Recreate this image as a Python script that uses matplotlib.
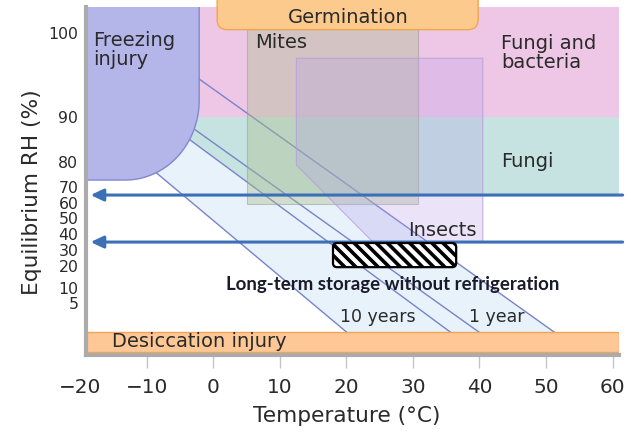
import numpy as np
import matplotlib
matplotlib.use("Agg")
import matplotlib.pyplot as plt
from matplotlib.patches import Polygon, Rectangle, FancyBboxPatch, FancyArrowPatch

# the RH axis of the original is stretched: height (px above the x axis) of each RH knot
rh_knots = [0, 5, 10, 20, 30, 40, 50, 60, 70, 80, 90, 100]
pos_knots = [3, 52, 67, 89, 105, 121, 137, 152, 168, 193, 238, 322]

rh_ticks = [5, 10, 20, 30, 40, 50, 60, 70, 80, 90, 100]
t_ticks = [-20, -10, 0, 10, 20, 30, 40, 50, 60]

# zones: (t_min, t_max, rh_min, rh_max)
freezing = (-19.1, -2.1, 72.8, 104)
fungi_bact = (-10, 60.9, 90, 104)
fungi = (-10, 60.9, 65, 90)
mites = (5.1, 30.8, 59.4, 104)
insects = (12.5, 40.5, 35, 97)
insects_cut = (24, 78.8)          # cut corner: t at rh_min, rh at t_min
germination = (0.6, 39.8, 100.4, 106)
desiccation = (-19.1, 60.9, 0, 2)
storage = (18, 36.5, 19.5, 34.4)

# seed longevity lines
lines_rh_bottom = 2
lines_t_bottom = [20.1, 35.7, 40.0, 51.3]
lines_t_top = [-16.2, -9.5, -6.8, -4.0]
lines_rh_top = [87.1, 90.8, 90.8, 95.6]

arrow_rh = [65, 35]


def extrap(x, xp, fp):
    x = np.asarray(x, dtype=float)
    y = np.interp(x, xp, fp)
    s0 = (fp[1] - fp[0]) / (xp[1] - xp[0])
    s1 = (fp[-1] - fp[-2]) / (xp[-1] - xp[-2])
    y = np.where(x < xp[0], fp[0] + (x - xp[0]) * s0, y)
    y = np.where(x > xp[-1], fp[-1] + (x - xp[-1]) * s1, y)
    return y


def fwd(rh):
    return extrap(rh, rh_knots, pos_knots)


def inv(p):
    return extrap(p, pos_knots, rh_knots)


def line_t(i, rh):
    p0, p1 = fwd(lines_rh_bottom), fwd(lines_rh_top[i])
    f = (fwd(rh) - p0) / (p1 - p0)
    return lines_t_bottom[i] + f * (lines_t_top[i] - lines_t_bottom[i])


fig = plt.figure(figsize=(6.31, 4.32), dpi=100)
ax = fig.add_axes([80 / 631, 77 / 432, 539.3 / 631, 348 / 432])
ax.set_yscale("function", functions=(fwd, inv))
ax.set_xlim(-20, 61)
ax.set_ylim(-0.3, 103.1)

txt = "#2a2a2a"

# light blue longevity band
band = [(lines_t_bottom[0], lines_rh_bottom), (lines_t_bottom[3], lines_rh_bottom),
        (lines_t_top[3], lines_rh_top[3]), (lines_t_top[0], lines_rh_top[0])]
ax.add_patch(Polygon(band, closed=True, fc="#e7f2fb", ec="none", zorder=1))

# fungi and bacteria, fungi
t0, t1, r0, r1 = fungi_bact
ax.add_patch(Rectangle((t0, r0), t1 - t0, r1 - r0, fc="#efc7e6", ec="#e0a8d0", lw=0.8, zorder=2))
t0, t1, r0, r1 = fungi
teal = [(line_t(1, r1), r1), (t1, r1), (t1, r0), (line_t(1, r0), r0)]
ax.add_patch(Polygon(teal, closed=True, fc="#c6e2e1", ec="none", zorder=2))

# longevity lines
for i in range(len(lines_t_bottom)):
    ax.plot([lines_t_bottom[i], lines_t_top[i]], [lines_rh_bottom, lines_rh_top[i]],
            color="#7884c8", lw=1.0, zorder=3)

# mites and insects
t0, t1, r0, r1 = mites
ax.add_patch(Rectangle((t0, r0), t1 - t0, r1 - r0, fc=(0.67, 0.74, 0.55, 0.4),
                       ec=(0.6, 0.6, 0.55, 0.5), lw=0.8, zorder=4))
t0, t1, r0, r1 = insects
ins = [(t0, r1), (t1, r1), (t1, r0), (insects_cut[0], r0), (t0, insects_cut[1])]
ax.add_patch(Polygon(ins, closed=True, fc=(0.7, 0.6, 0.92, 0.26),
                     ec=(0.72, 0.62, 0.86, 0.8), lw=0.8, zorder=4))

# freezing injury with rounded lower-right corner (round in screen space)
t0, t1, r0, r1 = freezing
rx, ry = 11.1, 80
p0 = float(fwd(r0))
ang = np.linspace(-np.pi / 2, 0, 40)
arc_t = (t1 - rx) + rx * np.cos(ang)
arc_r = inv(p0 + ry + ry * np.sin(ang))
fz = [(t0, r1), (t0, r0)] + list(zip(arc_t, arc_r)) + [(t1, r1)]
ax.add_patch(Polygon(fz, closed=True, fc="#b4b6ea", ec="#8088d0", lw=1.0, zorder=5))

# desiccation injury
t0, t1, r0, r1 = desiccation
ax.add_patch(Rectangle((t0, r0), t1 - t0, r1 - r0, fc="#fdc896", ec="#f4a458", lw=1.0, zorder=5))

# germination
t0, t1, r0, r1 = germination
ax.add_patch(FancyBboxPatch((t0, r0), t1 - t0, r1 - r0,
                            boxstyle="round,pad=0,rounding_size=1.5", mutation_aspect=0.8,
                            fc="#fdca8e", ec="#f2a54c", lw=1.0, zorder=6, clip_on=False))

# arrows
for rh in arrow_rh:
    ax.add_patch(FancyArrowPatch((61.5, rh), (-18.4, rh),
                                 arrowstyle="-|>,head_length=0.38,head_width=0.18",
                                 mutation_scale=20, color="#3b6fb6", lw=2.2,
                                 shrinkA=0, shrinkB=0, zorder=7, clip_on=False))

# long-term storage box
plt.rcParams["hatch.linewidth"] = 2.6
t0, t1, r0, r1 = storage
ax.add_patch(FancyBboxPatch((t0, r0), t1 - t0, r1 - r0,
                            boxstyle="round,pad=0,rounding_size=0.6", mutation_aspect=4,
                            fc="white", ec="black", lw=1.6, hatch="\\\\\\", zorder=8))

# labels inside the chart
ax.text(-18.0, 98, "Freezing\ninjury", fontsize=14, color=txt, ha="left", va="center",
        linespacing=1.0, zorder=9)
ax.text(6.3, 98.9, "Mites", fontsize=14, color=txt, ha="left", va="center", zorder=9)
ax.text(43.2, 97.6, "Fungi and\nbacteria", fontsize=14, color=txt, ha="left", va="center",
        linespacing=1.0, zorder=9)
ax.text(43.2, 80.2, "Fungi", fontsize=14, color=txt, ha="left", va="center", zorder=9)
ax.text(34.4, 42.5, "Insects", fontsize=14, color=txt, ha="center", va="center", zorder=9)
ax.text(20.3, 101.8, "Germination", fontsize=14, color=txt, ha="center", va="center",
        zorder=9, clip_on=False)
ax.text(-15.2, 1.1, "Desiccation injury", fontsize=14, color=txt, ha="left", va="center",
        zorder=9)
ax.text(24.8, 3.6, "10 years", fontsize=12.5, color=txt, ha="center", va="center", zorder=9)
ax.text(42.6, 3.6, "1 year", fontsize=12.5, color=txt, ha="center", va="center", zorder=9)
ax.text(27, 11.8, "Long-term storage without refrigeration", fontsize=13.4, family="Lato",
        weight="bold", color="#1a1a2a", ha="center", va="center", zorder=9)

# axes
ax.set_xticks(t_ticks)
ax.set_xticklabels(["\u2212" + str(-t) if t < 0 else str(t) for t in t_ticks])
ax.set_yticks(rh_ticks)
ax.set_yticklabels([str(r) for r in rh_ticks])
ax.yaxis.set_minor_locator(matplotlib.ticker.NullLocator())
ax.tick_params(axis="x", length=9.5, width=1.0, color="#c4c4c4", pad=7,
               labelsize=14.4, labelcolor=txt)
ax.tick_params(axis="y", length=0, pad=5.5, labelsize=11.3, labelcolor=txt)
ax.xaxis.get_major_ticks()[0].tick1line.set_visible(False)

for s in ["top", "right"]:
    ax.spines[s].set_visible(False)
ax.spines["left"].set_position(("data", -19.1))
ax.spines["bottom"].set_bounds(-19.1, 60.9)
for s in ["left", "bottom"]:
    ax.spines[s].set_color("#ababab")
    ax.spines[s].set_linewidth(3)
    ax.spines[s].set_zorder(10)
ax.patch.set_visible(False)

ax.set_xlabel("Temperature (\u00b0C)", fontsize=15.6, color=txt)
ax.xaxis.set_label_coords(0.494, -0.147)
ax.set_ylabel("Equilibrium RH (%)", fontsize=15.6, color=txt)
ax.yaxis.set_label_coords(-0.07, 0.468)

fig.savefig("out.png", dpi=100)
